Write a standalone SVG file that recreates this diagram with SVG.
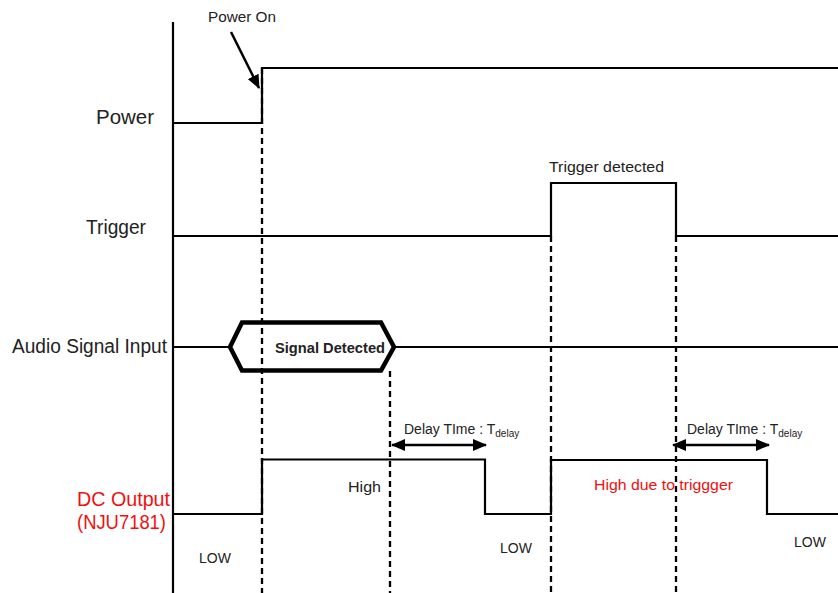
<svg xmlns="http://www.w3.org/2000/svg" width="838" height="593" viewBox="0 0 838 593">
<style>
.sig{fill:none;stroke:#000;stroke-width:2.2}
.dash{fill:none;stroke:#000;stroke-width:2.3;stroke-dasharray:6 4}
.lbl{font-family:"Liberation Sans",Arial,sans-serif;font-size:19.5px;fill:#222}
.sm{font-family:"Liberation Sans",Arial,sans-serif;font-size:14px;fill:#222}
.red{fill:#f01010}
</style>
<defs>
<marker id="ah2" markerWidth="14" markerHeight="12" refX="13" refY="6" orient="auto-start-reverse" markerUnits="userSpaceOnUse">
<path d="M0,0 L14,6 L0,12 z" fill="#000"/>
</marker>
</defs>
<g id="axis"><line x1="173" y1="22" x2="173" y2="593" stroke="#000" stroke-width="2.2"/></g>
<g id="power">
<text class="lbl" x="96" y="124" textLength="58" lengthAdjust="spacingAndGlyphs">Power</text>
<polyline class="sig" points="173,123 262,123 262,68 838,68"/>
</g>
<g id="trigger">
<text class="lbl" x="86" y="234" textLength="60" lengthAdjust="spacingAndGlyphs">Trigger</text>
<polyline class="sig" points="173,236 551,236 551,183 676,183 676,236 838,236"/>
<text class="sm" x="549" y="172" font-size="16" textLength="115" lengthAdjust="spacingAndGlyphs">Trigger detected</text>
</g>
<g id="audio">
<text class="lbl" x="12" y="353" textLength="155" lengthAdjust="spacingAndGlyphs">Audio Signal Input</text>
<line class="sig" x1="173" y1="347" x2="230" y2="347"/>
<polygon points="230,347 242,322.5 381,322.5 394,347 381,370.5 242,370.5" fill="none" stroke="#000" stroke-width="4.5" stroke-linejoin="miter"/>
<line class="sig" x1="394" y1="347" x2="838" y2="347"/>
<text class="sm" x="275" y="353" font-weight="bold" font-size="14.5" textLength="110" lengthAdjust="spacingAndGlyphs">Signal Detected</text>
</g>
<g id="dcout">
<text class="lbl red" x="77" y="506" textLength="93" lengthAdjust="spacingAndGlyphs">DC Output</text>
<text class="lbl red" x="77" y="529" textLength="89" lengthAdjust="spacingAndGlyphs">(NJU7181)</text>
<polyline class="sig" points="173,514 262,514 262,459.5 485,459.5 485,514 551,514 551,460 767,460 767,514 838,514"/>
<text class="sm" x="348" y="492" font-size="16" textLength="33" lengthAdjust="spacingAndGlyphs">High</text>
<text class="sm red" x="594" y="490" font-size="16" textLength="139" lengthAdjust="spacingAndGlyphs">High due to triggger</text>
<text class="sm" x="215" y="563" text-anchor="middle">LOW</text>
<text class="sm" x="516" y="553" text-anchor="middle">LOW</text>
<text class="sm" x="810" y="547" text-anchor="middle">LOW</text>
</g>
<g id="annotations">
<text class="sm" x="208" y="22" font-size="15" textLength="68" lengthAdjust="spacingAndGlyphs">Power On</text>
<line x1="231" y1="32" x2="259" y2="88" stroke="#000" stroke-width="2.5" marker-end="url(#ah2)"/>
<line x1="392" y1="445" x2="486" y2="445" stroke="#000" stroke-width="2.5" marker-start="url(#ah2)" marker-end="url(#ah2)"/>
<text class="sm" x="404" y="434">Delay TIme : T<tspan font-size="10" dy="3">delay</tspan></text>
<line x1="673" y1="445" x2="769" y2="445" stroke="#000" stroke-width="2.5" marker-start="url(#ah2)" marker-end="url(#ah2)"/>
<text class="sm" x="687" y="434">Delay TIme : T<tspan font-size="10" dy="3">delay</tspan></text>
</g>
<g id="connectors">
<line class="dash" x1="262" y1="68" x2="262" y2="593"/>
<line class="dash" x1="390" y1="371" x2="390" y2="593"/>
<line class="dash" x1="551" y1="236" x2="551" y2="593"/>
<line class="dash" x1="676" y1="236" x2="676" y2="593"/>
</g>
</svg>
